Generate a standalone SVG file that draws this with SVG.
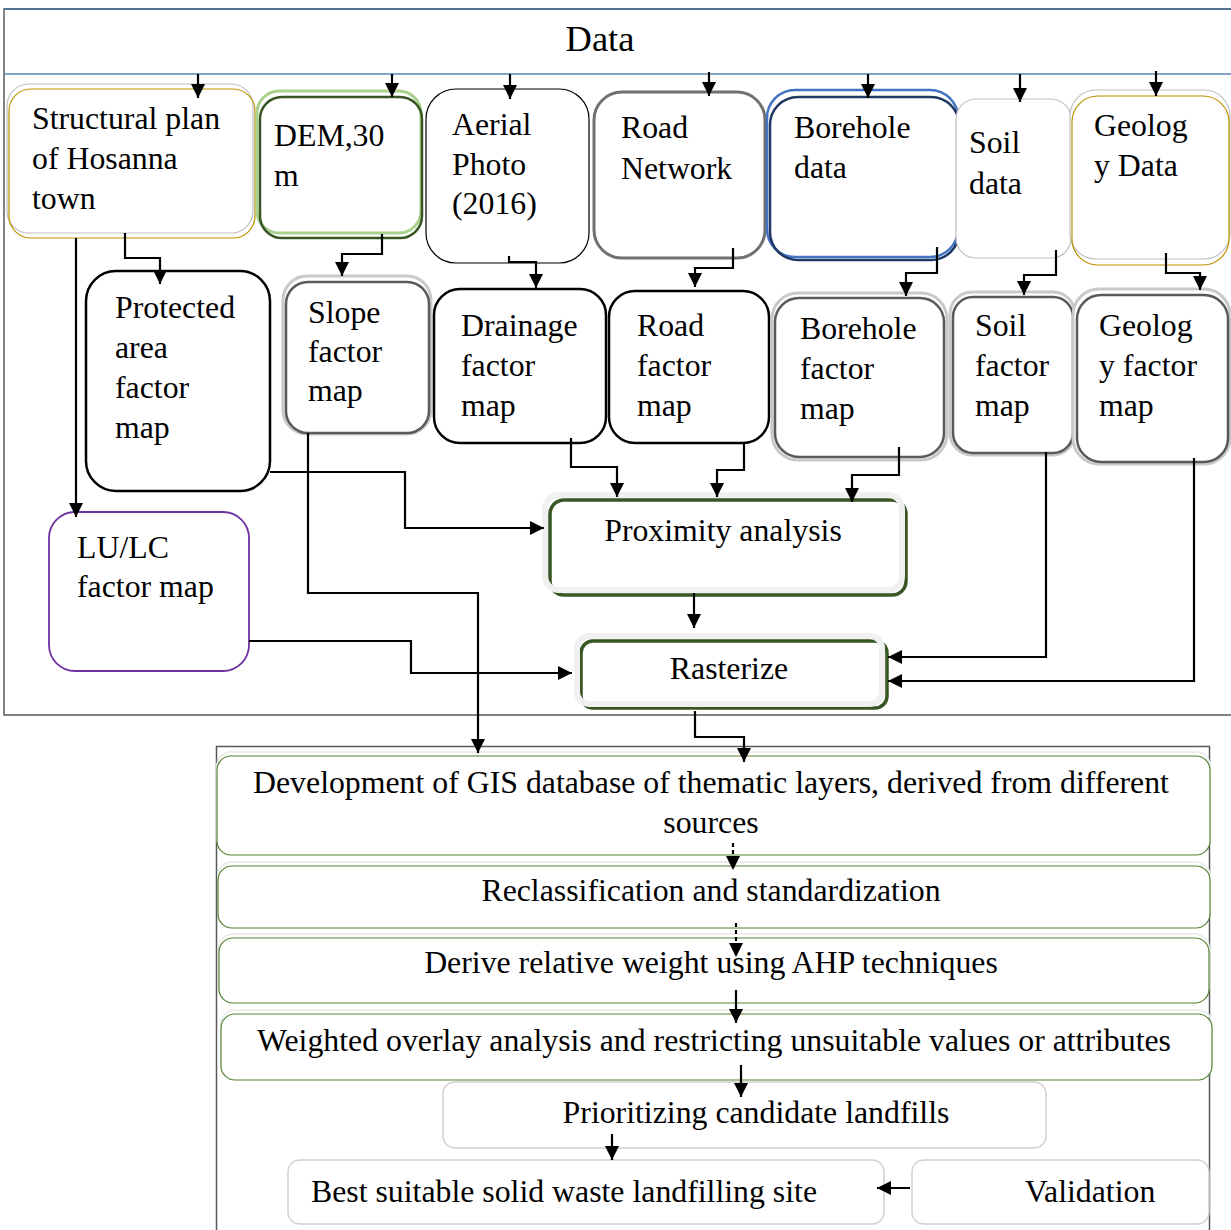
<svg xmlns="http://www.w3.org/2000/svg" width="1231" height="1230" viewBox="0 0 1231 1230">
<defs>
<style>
text{font-family:"Liberation Serif","Times New Roman",serif;font-size:31.8px;fill:#000}
.c{text-anchor:middle}
.ln{fill:none;stroke:#000;stroke-width:2.2}
.dash{stroke-dasharray:4,3}
.bx{fill:#fff}
</style>
<marker id="ah" viewBox="0 0 14 14" refX="14" refY="7" markerWidth="15" markerHeight="14" markerUnits="userSpaceOnUse" orient="auto">
<path d="M0,0 L14,7 L0,14 z" fill="#000"/>
</marker>
</defs>
<rect width="1231" height="1230" fill="#fff"/>

<g id="data-panel">
<rect x="4" y="9" width="1240" height="706" fill="#fff" stroke="#595959" stroke-width="1.5"/>
<line x1="4" y1="9" x2="1231" y2="9" stroke="#41719c" stroke-width="1.5"/>
<line x1="4" y1="74" x2="1231" y2="74" stroke="#5b86b0" stroke-width="1.5"/>
<text x="600" y="51" class="c" style="font-size:36.5px">Data</text>
</g>

<g id="process-panel">
<rect x="216.5" y="746.5" width="993" height="490" fill="#fff" stroke="#595959" stroke-width="1.5"/>
</g>

<g id="structural-plan">
<rect x="7" y="84" width="246" height="149" rx="22" class="bx" stroke="#bfbfbf" stroke-width="1.2"/>
<rect x="9" y="89" width="246" height="149" rx="22" fill="none" stroke="#bf9000" stroke-width="1.2"/>
<text x="32" y="129">Structural plan</text>
<text x="32" y="169">of Hosanna</text>
<text x="32" y="209">town</text>
</g>

<g id="dem">
<rect x="257" y="91" width="164" height="142" rx="22" class="bx" stroke="#a9d18e" stroke-width="3"/>
<rect x="260" y="97" width="162" height="141" rx="22" fill="none" stroke="#375623" stroke-width="2.5"/>
<text x="274" y="146">DEM,30</text>
<text x="274" y="186">m</text>
</g>

<g id="aerial-photo">
<rect x="426" y="89" width="163" height="174" rx="30" class="bx" stroke="#000" stroke-width="1.2"/>
<text x="452" y="135">Aerial</text>
<text x="452" y="175">Photo</text>
<text x="452" y="214">(2016)</text>
</g>

<g id="road-network">
<rect x="594" y="92" width="171" height="166" rx="28" class="bx" stroke="#707070" stroke-width="3"/>
<text x="621" y="138">Road</text>
<text x="621" y="179">Network</text>
</g>

<g id="borehole-data">
<rect x="767" y="90" width="191" height="167" rx="28" class="bx" stroke="#4472c4" stroke-width="2.5"/>
<rect x="770" y="97" width="189" height="163" rx="28" fill="none" stroke="#1f3864" stroke-width="2.5"/>
<text x="794" y="138">Borehole</text>
<text x="794" y="178">data</text>
</g>

<g id="soil-data">
<rect x="956" y="99" width="115" height="159" rx="20" class="bx" stroke="#bfbfbf" stroke-width="1.2"/>
<text x="969" y="153">Soil</text>
<text x="969" y="194">data</text>
</g>

<g id="geology-data">
<rect x="1070" y="90" width="160" height="169" rx="26" class="bx" stroke="#bfbfbf" stroke-width="1.2"/>
<rect x="1072" y="96" width="157" height="169" rx="26" fill="none" stroke="#bf9000" stroke-width="1.2"/>
<text x="1094" y="136">Geolog</text>
<text x="1094" y="176">y Data</text>
</g>

<g id="protected-area">
<rect x="86" y="271" width="184" height="220" rx="30" class="bx" stroke="#000" stroke-width="2.5"/>
<text x="115" y="318">Protected</text>
<text x="115" y="358">area</text>
<text x="115" y="398">factor</text>
<text x="115" y="438">map</text>
</g>

<g id="slope">
<rect x="283" y="276" width="148" height="158" rx="24" class="bx" stroke="#c9c9c9" stroke-width="3"/>
<rect x="286" y="282" width="143" height="151" rx="22" fill="none" stroke="#595959" stroke-width="2.5"/>
<text x="308" y="323">Slope</text>
<text x="308" y="362">factor</text>
<text x="308" y="401">map</text>
</g>

<g id="drainage">
<rect x="434" y="289" width="172" height="154" rx="26" class="bx" stroke="#000" stroke-width="2.5"/>
<text x="461" y="336">Drainage</text>
<text x="461" y="376">factor</text>
<text x="461" y="416">map</text>
</g>

<g id="road-factor">
<rect x="609" y="291" width="160" height="152" rx="26" class="bx" stroke="#000" stroke-width="2.5"/>
<text x="637" y="336">Road</text>
<text x="637" y="376">factor</text>
<text x="637" y="416">map</text>
</g>

<g id="borehole-factor">
<rect x="772" y="293" width="175" height="167" rx="26" class="bx" stroke="#c9c9c9" stroke-width="3"/>
<rect x="775" y="298" width="169" height="159" rx="24" fill="none" stroke="#595959" stroke-width="2.5"/>
<text x="800" y="339">Borehole</text>
<text x="800" y="379">factor</text>
<text x="800" y="419">map</text>
</g>

<g id="soil-factor">
<rect x="950" y="292" width="125" height="163" rx="22" class="bx" stroke="#c9c9c9" stroke-width="3"/>
<rect x="953" y="297" width="120" height="156" rx="20" fill="none" stroke="#595959" stroke-width="2.5"/>
<text x="975" y="336">Soil</text>
<text x="975" y="376">factor</text>
<text x="975" y="416">map</text>
</g>

<g id="geology-factor">
<rect x="1073" y="289" width="157" height="175" rx="26" class="bx" stroke="#c9c9c9" stroke-width="3"/>
<rect x="1077" y="295" width="151" height="167" rx="24" fill="none" stroke="#595959" stroke-width="2.5"/>
<text x="1099" y="336">Geolog</text>
<text x="1099" y="376">y factor</text>
<text x="1099" y="416">map</text>
</g>

<g id="lulc">
<rect x="49" y="512" width="200" height="159" rx="26" class="bx" stroke="#7030a0" stroke-width="1.8"/>
<text x="77" y="558">LU/LC</text>
<text x="77" y="597">factor map</text>
</g>

<g id="proximity">
<rect x="550" y="500" width="356" height="95" rx="14" class="bx" stroke="#375623" stroke-width="3.5"/>
<rect x="545" y="495" width="357" height="95" rx="14" fill="none" stroke="#f0f0f0" stroke-width="6"/>
<text x="723" y="541" class="c">Proximity analysis</text>
</g>

<g id="rasterize">
<rect x="581" y="641" width="306" height="67" rx="12" class="bx" stroke="#375623" stroke-width="3.5"/>
<rect x="577" y="636" width="305" height="68" rx="12" fill="none" stroke="#f0f0f0" stroke-width="6"/>
<text x="729" y="679" class="c">Rasterize</text>
</g>

<g id="gis-database">
<rect x="217" y="752" width="993" height="100" rx="14" fill="none" stroke="#ededed" stroke-width="2"/>
<rect x="217" y="756" width="993" height="99" rx="14" class="bx" stroke="#548235" stroke-width="1.2"/>
<text x="711" y="793" class="c">Development of GIS database of thematic layers, derived from different</text>
<text x="711" y="833" class="c">sources</text>
</g>

<g id="reclassification">
<rect x="218" y="862" width="992" height="62" rx="14" fill="none" stroke="#ededed" stroke-width="2"/>
<rect x="218" y="866" width="992" height="62" rx="14" class="bx" stroke="#548235" stroke-width="1.2"/>
<text x="711" y="901" class="c">Reclassification and standardization</text>
</g>

<g id="derive-weight">
<rect x="219" y="934" width="990" height="66" rx="14" fill="none" stroke="#ededed" stroke-width="2"/>
<rect x="219" y="938" width="990" height="65" rx="14" class="bx" stroke="#548235" stroke-width="1.2"/>
<text x="711" y="973" class="c">Derive relative weight using AHP techniques</text>
</g>

<g id="weighted-overlay">
<rect x="221" y="1010" width="991" height="66" rx="14" fill="none" stroke="#ededed" stroke-width="2"/>
<rect x="221" y="1014" width="991" height="66" rx="14" class="bx" stroke="#548235" stroke-width="1.2"/>
<text x="714" y="1051" class="c">Weighted overlay analysis and restricting unsuitable values or attributes</text>
</g>

<g id="prioritizing">
<rect x="443" y="1082" width="603" height="66" rx="12" class="bx" stroke="#d0d0d0" stroke-width="1.5"/>
<text x="756" y="1123" class="c">Prioritizing candidate landfills</text>
</g>

<g id="best-site">
<rect x="288" y="1160" width="596" height="64" rx="12" class="bx" stroke="#d0d0d0" stroke-width="1.5"/>
<text x="564" y="1202" class="c">Best suitable solid waste landfilling site</text>
</g>

<g id="validation">
<rect x="912" y="1160" width="297" height="64" rx="12" class="bx" stroke="#d0d0d0" stroke-width="1.5"/>
<text x="1090" y="1202" class="c">Validation</text>
</g>

<g id="connectors">
<path class="ln" marker-end="url(#ah)" d="M198,74 V98"/>
<path class="ln" marker-end="url(#ah)" d="M392,74 V97"/>
<path class="ln" marker-end="url(#ah)" d="M510,74 V99"/>
<path class="ln" marker-end="url(#ah)" d="M709,72 V96"/>
<path class="ln" marker-end="url(#ah)" d="M868,74 V98"/>
<path class="ln" marker-end="url(#ah)" d="M1020,74 V102"/>
<path class="ln" marker-end="url(#ah)" d="M1156,71 V96"/>
<path class="ln" marker-end="url(#ah)" d="M125,233 V258 H160 V284"/>
<path class="ln" marker-end="url(#ah)" d="M76,238 V517"/>
<path class="ln" marker-end="url(#ah)" d="M382,234 V254 H342 V276"/>
<path class="ln" marker-end="url(#ah)" d="M509,256 V262 H536 V288"/>
<path class="ln" marker-end="url(#ah)" d="M733,248 V268 H695 V287"/>
<path class="ln" marker-end="url(#ah)" d="M937,247 V273 H906 V296"/>
<path class="ln" marker-end="url(#ah)" d="M1056,250 V275 H1024 V295"/>
<path class="ln" marker-end="url(#ah)" d="M1166,253 V273 H1200 V290"/>
<path class="ln" marker-end="url(#ah)" d="M270,472 H405 V528 H544"/>
<path class="ln" marker-end="url(#ah)" d="M308,433 V593 H478 V753"/>
<path class="ln" marker-end="url(#ah)" d="M571,438 V467 H617 V497"/>
<path class="ln" marker-end="url(#ah)" d="M744,443 V470 H717 V497"/>
<path class="ln" marker-end="url(#ah)" d="M899,447 V475 H852 V502"/>
<path class="ln" marker-end="url(#ah)" d="M694,593 V628"/>
<path class="ln" marker-end="url(#ah)" d="M1046,452 V657 H888"/>
<path class="ln" marker-end="url(#ah)" d="M1194,458 V681 H888"/>
<path class="ln" marker-end="url(#ah)" d="M249,641 H411 V673 H572"/>
<path class="ln" marker-end="url(#ah)" d="M695,711 V737 H744 V762"/>
<path class="ln dash" marker-end="url(#ah)" d="M733,843 V870"/>
<path class="ln dash" marker-end="url(#ah)" d="M736,923 V957"/>
<path class="ln" marker-end="url(#ah)" d="M736,990 V1023"/>
<path class="ln" marker-end="url(#ah)" d="M741,1065 V1097"/>
<path class="ln" marker-end="url(#ah)" d="M612,1134 V1160"/>
<path class="ln" marker-end="url(#ah)" d="M910,1188 H877"/>
</g>
</svg>
